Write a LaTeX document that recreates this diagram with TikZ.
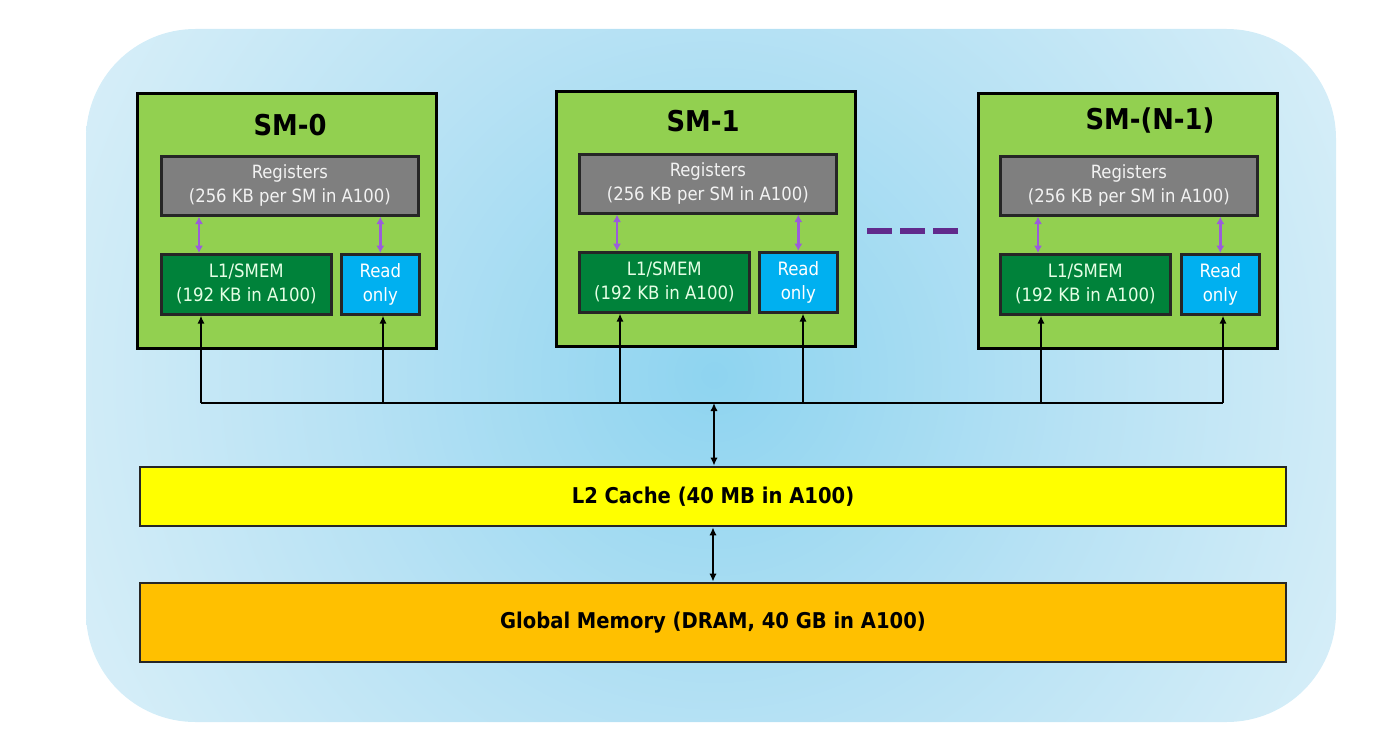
\documentclass[tikz,border=0pt]{standalone}
\usepackage{fontspec}
\setmainfont{DejaVu Sans Condensed}
\usepackage{tikz}
\usetikzlibrary{positioning,shapes,arrows,arrows.meta}

\definecolor{bga}{HTML}{8ED4F0}
\definecolor{bgb}{HTML}{B8E2F4}
\definecolor{bgc}{HTML}{D6EEF8}
\definecolor{bgd}{HTML}{DEF1F9}
\definecolor{smgreen}{HTML}{92D050}
\definecolor{reggray}{HTML}{7F7F7F}
\definecolor{l1green}{HTML}{00823A}
\definecolor{roblue}{HTML}{00B0F0}
\definecolor{l2yellow}{HTML}{FFFF00}
\definecolor{gmorange}{HTML}{FFC000}
\definecolor{regpurple}{HTML}{9B5CDB}
\definecolor{dotpurple}{HTML}{612A8C}
\pgfdeclareradialshading{bgshade}{\pgfpoint{0bp}{0bp}}{color(0bp)=(bga); color(13bp)=(bgb); color(24bp)=(bgc); color(28bp)=(bgd); color(75bp)=(bgd)}

\begin{document}
\begin{tikzpicture}[x=0.75pt, y=-0.75pt,
    smbox/.style={rectangle, draw=black, line width=2pt, fill=smgreen, minimum width=224.25pt, minimum height=191.25pt, inner sep=0pt, anchor=north west},
    smtitle/.style={font=\fontsize{21.5}{26}\selectfont\bfseries, text=black},
    regbox/.style={rectangle, draw=black!85, line width=2pt, fill=reggray, text=white!95!black, minimum width=192.75pt, minimum height=44.25pt, inner sep=0pt, align=center, anchor=north west, font=\fontsize{13.7}{18}\selectfont},
    l1box/.style={rectangle, draw=black!85, line width=2pt, fill=l1green, text=white!90!green, minimum width=127.5pt, minimum height=45pt, inner sep=0pt, align=center, anchor=north west, font=\fontsize{13.8}{18}\selectfont},
    robox/.style={rectangle, draw=black!85, line width=2pt, fill=roblue, text=white, minimum width=58.5pt, minimum height=45pt, inner sep=0pt, align=center, anchor=north west, font=\fontsize{13.8}{18}\selectfont},
    membox/.style={rectangle, draw=black!85, line width=2pt, minimum width=859.5pt, inner sep=0pt, font=\fontsize{16.3}{18}\selectfont\bfseries},
    regarrow/.style={{Latex[length=5.5pt,width=6pt]}-{Latex[length=5.5pt,width=6pt]}, draw=regpurple, line width=2pt},
    busarrow/.style={-{Latex[length=6pt,width=5.5pt]}, draw=black, line width=2pt},
    busline/.style={draw=black, line width=2pt},
    dblarrow/.style={{Latex[length=6pt,width=5.5pt]}-{Latex[length=6pt,width=5.5pt]}, draw=black, line width=2pt},
    ellip/.style={draw=dotpurple, line width=5pt, dash pattern=on 18.75pt off 6pt}]

  \useasboundingbox (0,0) rectangle (1386,742);
  \begin{scope}
    \clip[rounded corners=82pt] (86,29) rectangle (1336,722);
    \shade[shading=bgshade] (-6,-345) rectangle (1434,1095);
  \end{scope}

  % SM-0
  \node[smbox] (sm0) at (136,92) {};
  \node[smtitle] (t0) at (290,125) {SM-0};
  \node[regbox] (reg0) at (160,155) {Registers\\(256 KB per SM in A100)};
  \node[l1box] (l10) at (160,253) {L1/SMEM\\(192 KB in A100)};
  \node[robox] (ro0) at (340,253) {Read\\only};

  % SM-1
  \node[smbox] (sm1) at (555,90) {};
  \node[smtitle] (t1) at (703,121) {SM-1};
  \node[regbox] (reg1) at (578,153) {Registers\\(256 KB per SM in A100)};
  \node[l1box] (l11) at (578,251) {L1/SMEM\\(192 KB in A100)};
  \node[robox] (ro1) at (758,251) {Read\\only};

  % SM-(N-1)
  \node[smbox] (sm2) at (977,92) {};
  \node[smtitle] (t2) at (1150,121) {SM-(N-1)};
  \node[regbox] (reg2) at (999,155) {Registers\\(256 KB per SM in A100)};
  \node[l1box] (l12) at (999,253) {L1/SMEM\\(192 KB in A100)};
  \node[robox] (ro2) at (1180,253) {Read\\only};

  % L2 and DRAM
  \node[membox, fill=l2yellow, minimum height=44.25pt] (l2) at (713,496.5) {L2 Cache (40 MB in A100)};
  \node[membox, fill=gmorange, minimum height=59.25pt] (gm) at (713,622.5) {Global Memory (DRAM, 40 GB in A100)};

  % registers <-> L1 / read only
  \draw[regarrow] ([xshift=29.25pt]reg0.south west) -- ([xshift=29.25pt]l10.north west);
  \draw[regarrow] (reg0.south -| ro0.north) -- (ro0.north);
  \draw[regarrow] ([xshift=29.25pt]reg1.south west) -- ([xshift=29.25pt]l11.north west);
  \draw[regarrow] (reg1.south -| ro1.north) -- (ro1.north);
  \draw[regarrow] ([xshift=29.25pt]reg2.south west) -- ([xshift=29.25pt]l12.north west);
  \draw[regarrow] (reg2.south -| ro2.north) -- (ro2.north);

  % bus to the SMs
  \coordinate (bus) at (714,403);
  \coordinate (f0) at ([xshift=30.75pt]l10.south west);
  \coordinate (f1) at ([xshift=31.5pt]l11.south west);
  \coordinate (f2) at ([xshift=31.5pt]l12.south west);
  \coordinate (g0) at ([xshift=2pt]ro0.south);
  \coordinate (g1) at ([xshift=3.5pt]ro1.south);
  \coordinate (g2) at ([xshift=2pt]ro2.south);
  \draw[busline] (f0 |- bus) -- (g2 |- bus);
  \draw[busarrow] (f0 |- bus) -- (f0);
  \draw[busarrow] (g0 |- bus) -- (g0);
  \draw[busarrow] (f1 |- bus) -- (f1);
  \draw[busarrow] (g1 |- bus) -- (g1);
  \draw[busarrow] (f2 |- bus) -- (f2);
  \draw[busarrow] (g2 |- bus) -- (g2);

  \draw[dblarrow] (bus) -- (bus |- l2.north);
  \draw[dblarrow] (l2.south) -- (gm.north);

  % more SMs
  \coordinate (d0) at (867,231);
  \coordinate (d1) at (958,231);
  \draw[ellip] (d0) -- (d1);
\end{tikzpicture}
\end{document}
